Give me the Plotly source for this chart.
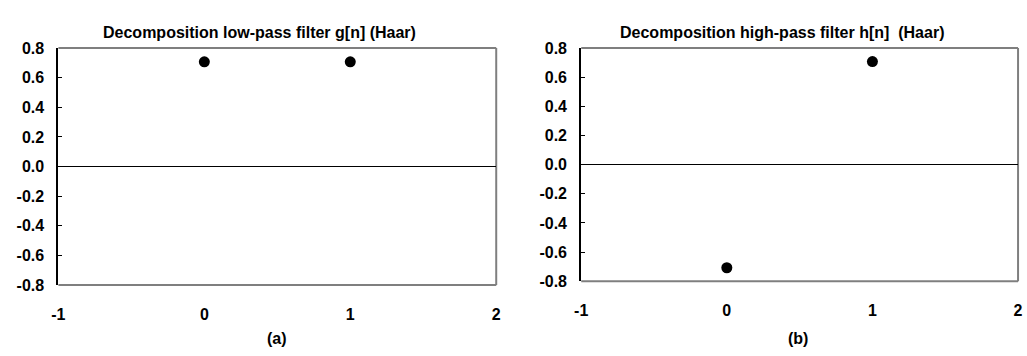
import plotly.graph_objects as go

n_low = [0, 1]
g_vals = [0.7071, 0.7071]
n_high = [0, 1]
h_vals = [-0.7071, 0.7071]
x_ticks = [-1, 0, 1, 2]
x_tick_text = ["-1", "0", "1", "2"]
y_ticks = [-0.8, -0.6, -0.4, -0.2, 0.0, 0.2, 0.4, 0.6, 0.8]
y_tick_text = ["-0.8", "-0.6", "-0.4", "-0.2", "0.0", "0.2", "0.4", "0.6", "0.8"]
titles = ["Decomposition low-pass filter g[n] (Haar)", "Decomposition high-pass filter h[n]  (Haar)"]
captions = ["(a)", "(b)"]

W, H = 1027, 356
FONT = "Liberation Sans, Arial, sans-serif"
FS = 16

def px(x):
    return x / W

def py(y):
    return (H - y) / H

panels = [
    dict(x0=52, x1=495, y0=42, y1=291),
    dict(x0=581, x1=1023, y0=42, y1=287),
]

fig = go.Figure()
fig.add_trace(go.Scatter(x=n_low, y=g_vals, mode="markers",
                         marker=dict(color="black", size=11), xaxis="x", yaxis="y", showlegend=False))
fig.add_trace(go.Scatter(x=n_high, y=h_vals, mode="markers",
                         marker=dict(color="black", size=11), xaxis="x2", yaxis="y2", showlegend=False))

layout = dict(width=W, height=H, margin=dict(l=0, r=0, t=0, b=0),
              paper_bgcolor="white", plot_bgcolor="white", showlegend=False,
              font=dict(family=FONT, color="black"))
shapes = []
annotations = []
for i, p in enumerate(panels):
    sx = "" if i == 0 else "2"
    layout["xaxis" + sx] = dict(domain=[px(p["x0"]), px(p["x1"])], range=[-1, 2],
                                anchor="y" + sx, tickvals=x_ticks, ticktext=x_tick_text,
                                showgrid=False, zeroline=False,
                                showline=False, ticks="", ticklabelstandoff=18,
                                tickfont=dict(family=FONT, size=FS, color="black", weight="bold"))
    layout["yaxis" + sx] = dict(domain=[py(p["y1"]), py(p["y0"])], range=[-0.8, 0.8],
                                anchor="x" + sx, tickvals=y_ticks, ticktext=y_tick_text,
                                showgrid=False, zeroline=True, zerolinecolor="black", zerolinewidth=1,
                                showline=True, linecolor="black", linewidth=2,
                                ticks="inside", ticklen=4, tickcolor="black", tickwidth=1,
                                ticklabelstandoff=9,
                                tickfont=dict(family=FONT, size=FS, color="black", weight="bold"))
    for (xa, ya, xb, yb) in [(p["x0"], p["y0"], p["x1"], p["y0"]),
                             (p["x1"], p["y0"], p["x1"], p["y1"]),
                             (p["x0"], p["y1"], p["x1"], p["y1"])]:
        shapes.append(dict(type="line", xref="paper", yref="paper",
                           x0=px(xa), y0=py(ya), x1=px(xb), y1=py(yb),
                           line=dict(color="#7f7f7f", width=2), layer="below"))
    annotations.append(dict(text="<b>" + titles[i] + "</b>", xref="paper", yref="paper",
                            x=px([255, 784][i]), y=py(26), xanchor="center", yanchor="middle",
                            showarrow=False, font=dict(family=FONT, size=FS, color="black")))
    annotations.append(dict(text="<b>" + captions[i] + "</b>", xref="paper", yref="paper",
                            x=px([273, 800][i]), y=py(347), xanchor="center", yanchor="middle",
                            showarrow=False, font=dict(family=FONT, size=FS, color="black")))

layout["shapes"] = shapes
layout["annotations"] = annotations
fig.update_layout(**layout)
fig.write_html("out.html")
